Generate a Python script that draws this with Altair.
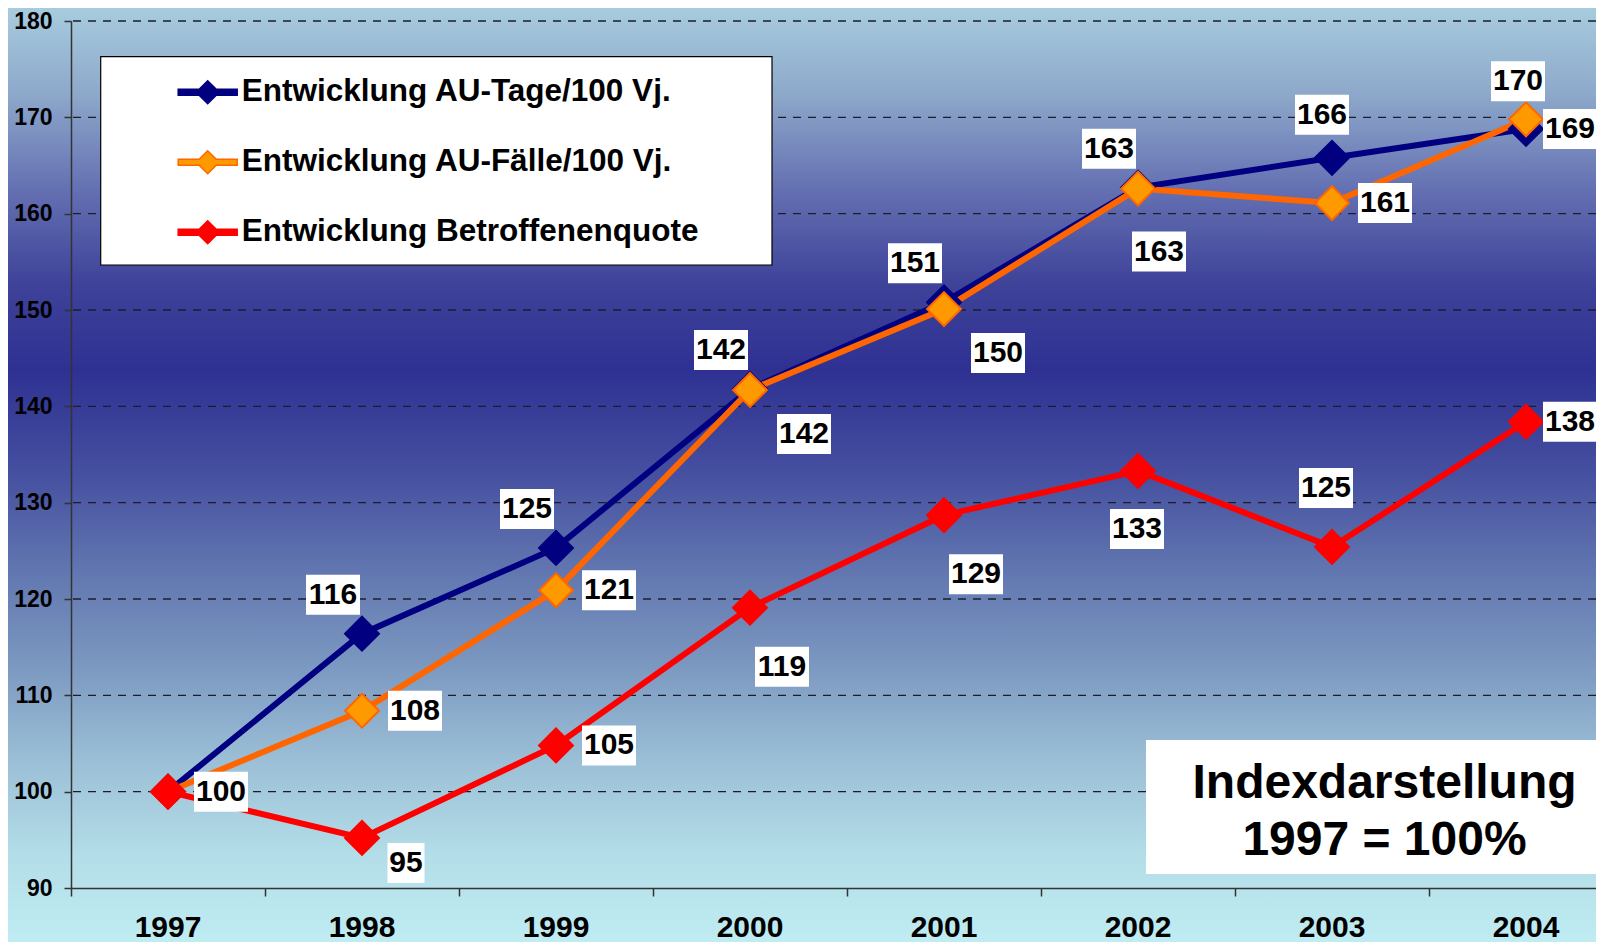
import altair as alt
import pandas as pd

# ---------------- data ----------------
years = [1997, 1998, 1999, 2000, 2001, 2002, 2003, 2004]
series_names = [
    "Entwicklung AU-Tage/100 Vj.",
    "Entwicklung AU-Fälle/100 Vj.",
    "Entwicklung Betroffenenquote",
]
au_tage = [100, 116.4, 125.3, 141.8, 150.8, 162.7, 165.8, 168.8]
au_faelle = [100, 108.4, 120.9, 141.7, 150.1, 162.6, 161.1, 169.8]
betroffene = [100, 95.2, 104.8, 119.1, 128.7, 133.3, 125.4, 138.4]

# label placement code per point (None = no label shown)
place_tage = [None, "ul", "ul", "ul", "ul", "ul", "u", "re"]
place_faelle = [None, "r", "r", "dr", "dr", "d", "r", "u2"]
place_betr = ["r", "dr2", "r", "drb", "drb", "b", "ub", "re"]

y_ticks = [90, 100, 110, 120, 130, 140, 150, 160, 170, 180]
grid_values = [100, 110, 120, 130, 140, 150, 160, 170, 180]
x_boundaries = [1996.5, 1997.5, 1998.5, 1999.5, 2000.5, 2001.5, 2002.5, 2003.5]
annotation_lines = ["Indexdarstellung", "1997 = 100%"]

# ---------------- styling ----------------
FONT = "Liberation Sans"
W, H = 1525, 867
line_colors = ["#000080", "#FF6600", "#FF0000"]
marker_fills = ["#000080", "#FF9900", "#FF0000"]

# label offsets (pixels) for each placement code
PLACE = {
    "r": (53, 0),
    "re": (44, 0),
    "ul": (-29, -39),
    "u": (-10, -43),
    "u2": (-8, -38),
    "dr": (54, 44),
    "d": (21, 63),
    "drb": (32, 59),
    "b": (-1, 58),
    "ub": (-6, -59),
    "dr2": (44, 25),
}

rows = []
for name, vals, places in zip(series_names, [au_tage, au_faelle, betroffene],
                              [place_tage, place_faelle, place_betr]):
    for yr, v, p in zip(years, vals, places):
        rows.append({"year": yr, "value": v, "series": name, "place": p,
                     "nd": len(str(int(round(v))))})
df = pd.DataFrame(rows)

xscale = alt.Scale(domain=[1996.5, 1996.5 + W / 194.0], nice=False, zero=False)
yscale = alt.Scale(domain=[90, 180], nice=False, zero=False)

xaxis = alt.Axis(values=x_boundaries, labels=False,
                 title=None, grid=False, domainColor="#333333",
                 domainWidth=1.5, tickColor="#333333", tickWidth=1.5, tickSize=8,
                 zindex=1)
yaxis = alt.Axis(values=y_ticks, title=None, grid=False, domainColor="#333333",
                 domainWidth=1.5, tickColor="#333333", tickWidth=1.5, tickSize=7,
                 labelFont=FONT, labelFontSize=23, labelFontWeight="bold",
                 labelColor="black", labelPadding=12, labelOverlap=False,
                 labelFlush=False, zindex=1)

xenc = alt.X("year:Q", scale=xscale, axis=xaxis)
yenc = alt.Y("value:Q", scale=yscale, axis=yaxis)

legend_path = ("M-1,-0.1L-0.29,-0.1L0,-0.39L0.29,-0.1L1,-0.1L1,0.1L0.29,0.1"
               "L0,0.39L-0.29,0.1L-1,0.1Z")
legend = alt.Legend(title=None, orient="none", legendX=106.2, legendY=40.8,
                    direction="vertical", padding=0, symbolType=legend_path,
                    symbolSize=3481, symbolStrokeWidth=1.5, symbolOpacity=1,
                    symbolOffset=0, labelOffset=3.6, labelFont=FONT,
                    labelFontSize=31.5, labelFontWeight="bold", labelColor="black",
                    labelLimit=2000, rowPadding=24)

stroke_scale = alt.Scale(domain=series_names, range=line_colors)
fill_scale = alt.Scale(domain=series_names, range=marker_fills)

# ---------------- layers ----------------
gradient = alt.LinearGradient(
    gradient="linear", x1=0, x2=0, y1=0, y2=1,
    stops=[
        alt.GradientStop(color="#A9CFE0", offset=0.0),
        alt.GradientStop(color="#8DA8CA", offset=0.10),
        alt.GradientStop(color="#6470B2", offset=0.20),
        alt.GradientStop(color="#3E4299", offset=0.30),
        alt.GradientStop(color="#2E3192", offset=0.39),
        alt.GradientStop(color="#4650A0", offset=0.50),
        alt.GradientStop(color="#6176B0", offset=0.60),
        alt.GradientStop(color="#7B98C0", offset=0.70),
        alt.GradientStop(color="#9BBFD6", offset=0.80),
        alt.GradientStop(color="#B3DDE8", offset=0.90),
        alt.GradientStop(color="#C0EEF3", offset=1.0),
    ],
)
one = alt.Data(values=[{}])
bg = alt.Chart(one).mark_rect(fill=gradient, clip=False).encode(
    x=alt.value(-71), x2=alt.value(1533), y=alt.value(-21), y2=alt.value(929))

grid = alt.Chart(pd.DataFrame({"value": grid_values})).mark_rule(
    strokeDash=[8, 7], color="#1c1c2c", strokeWidth=1.3).encode(y=yenc)

year_labels = alt.Chart(pd.DataFrame({"year": years})).mark_text(
    font=FONT, fontSize=30, fontWeight="bold", color="black", align="center",
    baseline="top", clip=False).encode(
    x=xenc, y=alt.value(H + 25), text=alt.Text("year:Q", format="d"))

lines = alt.Chart(df).mark_line(strokeWidth=6).encode(
    x=xenc, y=yenc,
    stroke=alt.Stroke("series:N", scale=stroke_scale, legend=legend),
    order=alt.Order("year:Q"))

points = alt.Chart(df).mark_point(shape="diamond", size=1150, filled=True,
                                  strokeWidth=2, opacity=1).encode(
    x=xenc, y=yenc,
    fill=alt.Fill("series:N", scale=fill_scale, legend=legend),
    stroke=alt.Stroke("series:N", scale=stroke_scale, legend=legend))


def box_path(dx, dy, w, h, unit=50.0):
    x1, x2 = (dx - w / 2) / unit, (dx + w / 2) / unit
    y1, y2 = (dy - h / 2) / unit, (dy + h / 2) / unit
    return f"M{x1:.3f},{y1:.3f}L{x2:.3f},{y1:.3f}L{x2:.3f},{y2:.3f}L{x1:.3f},{y2:.3f}Z"


label_layers = []
text_layers = []
for code, (dx, dy) in PLACE.items():
    sub = df[df["place"] == code]
    if sub.empty:
        continue
    for nd, w in [(2, 37), (3, 54)]:
        s2 = sub[sub["nd"] == nd]
        if s2.empty:
            continue
        label_layers.append(
            alt.Chart(s2).mark_point(shape=box_path(dx, dy, w, 40), size=10000,
                                     filled=True, fill="white", opacity=1,
                                     strokeWidth=0).encode(x=xenc, y=yenc))
    text_layers.append(
        alt.Chart(sub).mark_text(dx=dx, dy=dy, font=FONT, fontSize=30,
                                 fontWeight="bold", color="black",
                                 align="center", baseline="middle").encode(
            x=xenc, y=yenc, text=alt.Text("value:Q", format=".0f")))

# white frame behind the legend entries
legend_box = alt.Chart(one).mark_rect(fill="white", stroke="black",
                                      strokeWidth=1.2, clip=False).encode(
    x=alt.value(29.7), x2=alt.value(701), y=alt.value(35.7), y2=alt.value(244))

note_box = alt.Chart(one).mark_rect(fill="white", clip=False).encode(
    x=alt.value(1075), x2=alt.value(1560), y=alt.value(719), y2=alt.value(853))
note1 = alt.Chart(one).mark_text(text=annotation_lines[0], font=FONT, fontSize=48,
                                 fontWeight="bold", color="black", align="center",
                                 baseline="alphabetic").encode(
    x=alt.value(1313.5), y=alt.value(777))
note2 = alt.Chart(one).mark_text(text=annotation_lines[1], font=FONT, fontSize=48,
                                 fontWeight="bold", color="black", align="center",
                                 baseline="alphabetic").encode(
    x=alt.value(1313.5), y=alt.value(834))

chart = alt.layer(bg, grid, year_labels, lines, points, *label_layers, *text_layers,
                  legend_box, note_box, note1, note2).properties(
    width=W, height=H,
    autosize=alt.AutoSizeParams(type="none"),
    padding={"left": 63, "top": 13, "right": 0, "bottom": 54},
    background="#A9CFE0",
).configure_view(stroke=None)

chart.save("out.html", embed_options={"renderer": "svg", "actions": False})
